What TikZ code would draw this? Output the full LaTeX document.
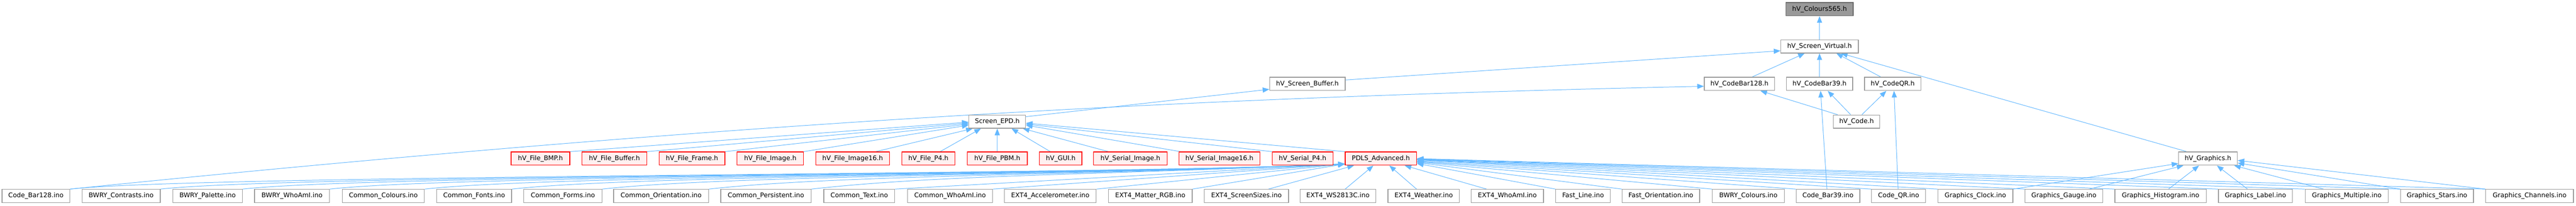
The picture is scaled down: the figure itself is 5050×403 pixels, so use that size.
\documentclass[tikz,border=0pt]{standalone}
\usepackage{fontspec}
\setmainfont{DejaVu Sans}
\usetikzlibrary{arrows.meta}
\definecolor{edgecol}{HTML}{63B8FF}
\definecolor{boxgray}{HTML}{999999}
\definecolor{rootfill}{HTML}{999999}
\definecolor{rootdraw}{HTML}{666666}
\definecolor{redfill}{HTML}{FFF0F0}
\pgfdeclarelayer{back}
\pgfdeclarelayer{links}
\pgfsetlayers{back,links,main}
\begin{document}
\begin{tikzpicture}[x=1pt,y=-1pt,
  fbox/.style={draw=boxgray, fill=white, line width=1.3pt, minimum height=26pt, inner sep=0pt,
    font=\fontsize{12.7pt}{15pt}\selectfont, text=black},
  rbox/.style={fbox, draw=red, fill=redfill},
  rootbox/.style={fbox, draw=rootdraw, fill=rootfill},
  dep/.style={draw=edgecol, line width=1pt, -{Triangle[length=13pt,width=10pt]}}]
\useasboundingbox (0,0) rectangle (5050,403);
\begin{pgfonlayer}{back}
\fill[white] (0,0) rectangle (5050,403);
\end{pgfonlayer}

% rows 0-3
\node[rootbox, minimum width=132pt] (col) at (3567,18) {hV\_Colours565.h};
\node[fbox, minimum width=152pt] (virt) at (3567,91) {hV\_Screen\_Virtual.h};
\node[fbox, minimum width=148pt] (sbuf) at (2563,164.5) {hV\_Screen\_Buffer.h};
\node[fbox, minimum width=138pt] (cb128) at (3410,164.5) {hV\_CodeBar128.h};
\node[fbox, minimum width=130pt] (cb39) at (3567,164.5) {hV\_CodeBar39.h};
\node[fbox, minimum width=111pt] (cqr) at (3710.5,164.5) {hV\_CodeQR.h};
\node[fbox, minimum width=111pt] (epd) at (1955,238.5) {Screen\_EPD.h};
\node[fbox, minimum width=91pt] (code) at (3639.5,238.5) {hV\_Code.h};

% row 4
\node[rbox, minimum width=115pt] (bmp) at (1059.5,311) {hV\_File\_BMP.h};
\node[rbox, minimum width=127pt] (fbuf) at (1204.5,311) {hV\_File\_Buffer.h};
\node[rbox, minimum width=129pt] (frame) at (1356.5,311) {hV\_File\_Frame.h};
\node[rbox, minimum width=130pt] (image) at (1510,311) {hV\_File\_Image.h};
\node[rbox, minimum width=145pt] (imgs) at (1671.5,311) {hV\_File\_Image16.h};
\node[rbox, minimum width=104pt] (p4) at (1820,311) {hV\_File\_P4.h};
\node[rbox, minimum width=118pt] (pbm) at (1955,311) {hV\_File\_PBM.h};
\node[rbox, minimum width=83pt] (gui) at (2079.5,311) {hV\_GUI.h};
\node[rbox, minimum width=144pt] (simg) at (2216,311) {hV\_Serial\_Image.h};
\node[rbox, minimum width=159pt] (simgs) at (2390.5,311) {hV\_Serial\_Image16.h};
\node[rbox, minimum width=119pt] (sp4) at (2553.5,311) {hV\_Serial\_P4.h};
\node[rbox, minimum width=140pt] (pdls) at (2707,311) {PDLS\_Advanced.h};
\node[fbox, minimum width=115pt] (gfx) at (4328.5,311) {hV\_Graphics.h};

% row 5
\node[fbox, minimum width=133pt] (i1) at (70.5,384.5) {Code\_Bar128.ino};
\node[fbox, minimum width=153pt] (i2) at (237.5,384.5) {BWRY\_Contrasts.ino};
\node[fbox, minimum width=136pt] (i3) at (407,384.5) {BWRY\_Palette.ino};
\node[fbox, minimum width=147pt] (i4) at (572.5,384.5) {BWRY\_WhoAmI.ino};
\node[fbox, minimum width=161pt] (i5) at (751.5,384.5) {Common\_Colours.ino};
\node[fbox, minimum width=147pt] (i6) at (929.5,384.5) {Common\_Fonts.ino};
\node[fbox, minimum width=153pt] (i7) at (1103.5,384.5) {Common\_Forms.ino};
\node[fbox, minimum width=186pt] (i8) at (1296,384.5) {Common\_Orientation.ino};
\node[fbox, minimum width=177pt] (i9) at (1501.5,384.5) {Common\_Persistent.ino};
\node[fbox, minimum width=139pt] (i10) at (1684.5,384.5) {Common\_Text.ino};
\node[fbox, minimum width=167pt] (i11) at (1862.5,384.5) {Common\_WhoAmI.ino};
\node[fbox, minimum width=180pt] (i12) at (2059,384.5) {EXT4\_Accelerometer.ino};
\node[fbox, minimum width=164pt] (i13) at (2255,384.5) {EXT4\_Matter\_RGB.ino};
\node[fbox, minimum width=165pt] (i14) at (2443.5,384.5) {EXT4\_ScreenSizes.ino};
\node[fbox, minimum width=148pt] (i15) at (2623,384.5) {EXT4\_WS2813C.ino};
\node[fbox, minimum width=140pt] (i16) at (2791,384.5) {EXT4\_Weather.ino};
\node[fbox, minimum width=142pt] (i17) at (2955,384.5) {EXT4\_WhoAmI.ino};
\node[fbox, minimum width=107pt] (i18) at (3103.5,384.5) {Fast\_Line.ino};
\node[fbox, minimum width=152pt] (i19) at (3256,384.5) {Fast\_Orientation.ino};
\node[fbox, minimum width=141pt] (i20) at (3427.5,384.5) {BWRY\_Colours.ino};
\node[fbox, minimum width=125pt] (i21) at (3583.5,384.5) {Code\_Bar39.ino};
\node[fbox, minimum width=106pt] (i22) at (3722,384.5) {Code\_QR.ino};
\node[fbox, minimum width=147pt] (i23) at (3872.5,384.5) {Graphics\_Clock.ino};
\node[fbox, minimum width=152pt] (i24) at (4046,384.5) {Graphics\_Gauge.ino};
\node[fbox, minimum width=179pt] (i25) at (4235.5,384.5) {Graphics\_Histogram.ino};
\node[fbox, minimum width=145pt] (i26) at (4421.5,384.5) {Graphics\_Label.ino};
\node[fbox, minimum width=163pt] (i27) at (4600.5,384.5) {Graphics\_Multiple.ino};
\node[fbox, minimum width=143pt] (i28) at (4777.5,384.5) {Graphics\_Stars.ino};
\node[fbox, minimum width=172pt] (i29) at (4959,384.5) {Graphics\_Channels.ino};

\begin{pgfonlayer}{links}
% upper part
\draw[dep] (virt) -- (col);
\draw[dep] (cb39) -- (virt);
\draw[dep] ([yshift=-6pt]sbuf.north east) -- ([yshift=5pt]virt.south west);
\draw[dep] ([xshift=25pt]cb128.north) -- ([xshift=-29pt]virt.south);
\draw[dep] ([xshift=-23.5pt]cqr.north) -- ([xshift=33pt]virt.south);
\draw[dep] ([xshift=-41.5pt]gfx.north) -- ([xshift=42pt]virt.south);
\draw[dep] ([yshift=-4pt]epd.north east) -- ([yshift=3pt]sbuf.south west);
\draw[dep] (i1.north east) .. controls (1500,232) and (2400,190) .. ([yshift=9pt]cb128.south west);
\draw[dep] ([xshift=9pt]code.north west) -- ([xshift=41pt]cb128.south);
\draw[dep] ([xshift=-11.5pt]code.north) -- ([xshift=16pt]cb39.south);
\draw[dep] ([xshift=10.5pt]code.north) -- ([xshift=-12.5pt]cqr.south);
\draw[dep] ([xshift=-2pt]i21.north) -- ([xshift=2pt]cb39.south);
\draw[dep] ([xshift=-1pt]i22.north) -- ([xshift=2.5pt]cqr.south);

% row 4 -> Screen_EPD
\draw[dep] (bmp.north east) -- ([yshift=-1pt]epd.west);
\draw[dep] (fbuf.north east) -- ([yshift=-3pt]epd.west);
\draw[dep] (frame.north east) -- ([yshift=-5pt]epd.west);
\draw[dep] (image.north east) -- ([yshift=-7pt]epd.west);
\draw[dep] ([xshift=-28pt]imgs.north east) -- ([xshift=8pt]epd.south west);
\draw[dep] ([xshift=23pt]p4.north) -- ([xshift=-32pt]epd.south);
\draw[dep] (pbm.north) -- (epd.south);
\draw[dep] ([xshift=-20.5pt]gui.north) -- ([xshift=28pt]epd.south);
\draw[dep] ([xshift=-43pt]simg.north) -- ([xshift=-6pt]epd.south east);
\draw[dep] ([xshift=4pt]simgs.north west) -- ([yshift=-7pt]epd.east);
\draw[dep] (sp4.north west) -- ([yshift=-5pt]epd.east);
\draw[dep] (pdls.north west) -- ([yshift=-3pt]epd.east);

% .ino -> PDLS_Advanced (left side)
\foreach \n in {i1,i2,i3,i4,i5,i6,i7,i8,i9}{
  \draw[dep] (\n.north east) .. controls +(250,-28) and +(-500,22) .. ([yshift=3pt]pdls.south west);
}
\foreach \n in {i10,i11,i12,i13}{
  \draw[dep] (\n.north east) -- ([yshift=3pt]pdls.south west);
}
\draw[dep] ([xshift=-40pt]i14.north east) -- ([xshift=18pt]pdls.south west);
\draw[dep] ([xshift=14pt]i15.north) -- ([xshift=56pt]pdls.south west);
\draw[dep] ([xshift=-14pt]i16.north) -- ([xshift=-54pt]pdls.south east);
\draw[dep] ([xshift=31pt]i17.north west) -- ([xshift=-24pt]pdls.south east);
% right side
\draw[dep] (i18.north west) -- ([yshift=4pt]pdls.south east);
\draw[dep] (i19.north west) -- ([yshift=6pt]pdls.south east);
\draw[dep] (i20.north west) -- ([yshift=7pt]pdls.south east);
\draw[dep] (i21.north west) -- ([yshift=8pt]pdls.south east);
\draw[dep] (i22.north west) -- ([yshift=9pt]pdls.south east);
\draw[dep] (i23.north west) -- ([yshift=-3pt]pdls.east);
\draw[dep] (i24.north west) -- ([yshift=-2.5pt]pdls.east);
\draw[dep] (i25.north west) -- ([yshift=-2pt]pdls.east);
\draw[dep] (i26.north west) -- ([yshift=-1.5pt]pdls.east);
\draw[dep] (i27.north west) -- ([yshift=-1pt]pdls.east);
\draw[dep] (i28.north west) -- ([yshift=-0.5pt]pdls.east);
\draw[dep] (i29.north west) -- (pdls.east);

% Graphics .ino -> hV_Graphics.h
\draw[dep] (i23.north east) -- ([yshift=4pt]gfx.south west);
\draw[dep] ([xshift=50pt]i24.north) -- ([xshift=10pt]gfx.south west);
\draw[dep] ([xshift=15.5pt]i25.north) -- ([xshift=-17.5pt]gfx.south);
\draw[dep] ([xshift=-15.5pt]i26.north) -- ([xshift=17.5pt]gfx.south);
\draw[dep] ([xshift=-45.5pt]i27.north) -- ([xshift=-7pt]gfx.south east);
\draw[dep] (i28.north west) -- ([yshift=5pt]gfx.south east);
\draw[dep] (i29.north west) -- ([yshift=10pt]gfx.south east);
\end{pgfonlayer}
\end{tikzpicture}
\end{document}
